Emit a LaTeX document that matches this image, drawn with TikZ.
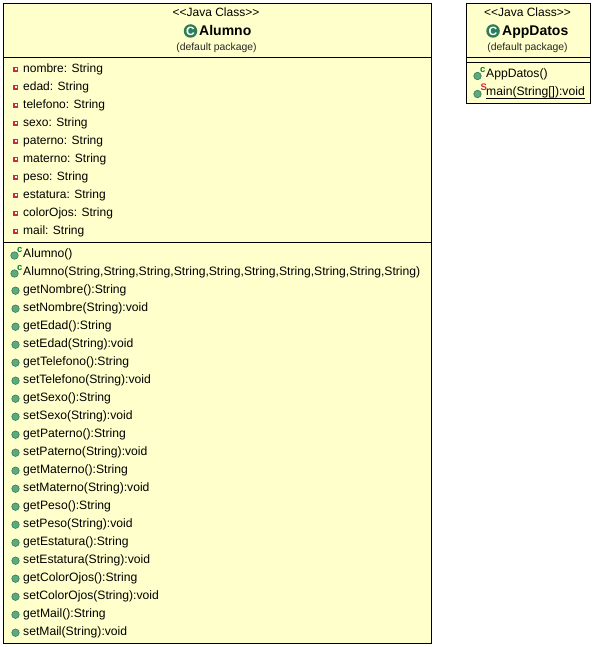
\documentclass[tikz,border=0pt]{standalone}
\usepackage{fontspec}
\setmainfont{Liberation Sans}
\definecolor{boxfill}{RGB}{255,255,203}
\definecolor{gdark}{RGB}{45,125,90}
\definecolor{gmid}{RGB}{95,170,125}
\definecolor{privred}{RGB}{205,40,70}
\definecolor{ctorgreen}{RGB}{0,130,50}
\tikzset{
  x=1pt,y=-1pt,
  classbox/.style={draw=black,line width=1pt,fill=boxfill,outer sep=0pt},
  sep/.style={draw=black,line width=1pt},
  member/.style={font=\fontsize{12.15}{12}\selectfont,anchor=base west,inner sep=0pt,text=black},
  fieldtext/.style={font=\fontsize{12}{12}\selectfont,anchor=base west,inner sep=0pt,text=black},
  stereo/.style={font=\fontsize{12}{12}\selectfont,anchor=base,inner sep=0pt,text=black},
  title/.style={font=\fontsize{14}{14}\selectfont\bfseries,anchor=base west,inner sep=0pt,text=black},
  pkg/.style={font=\fontsize{10.4}{10}\selectfont,anchor=base,inner sep=0pt,text=black!85},
  sup/.style={font=\fontsize{9.5}{8}\selectfont\bfseries,anchor=base west,inner sep=0pt},
  pubdot/.style={circle,draw=gdark,line width=0.6pt,fill=gmid,minimum size=7.5pt,inner sep=0pt},
  bigc/.style={circle,fill=gdark,minimum size=13.5pt,inner sep=0pt,text=white,font=\fontsize{12}{12}\selectfont\bfseries},
  privbox/.style={fill=privred,minimum size=5pt,inner sep=0pt,path picture={\fill[white] ([xshift=-1pt,yshift=-1pt]path picture bounding box.center) rectangle ([xshift=1pt,yshift=1pt]path picture bounding box.center);}},
}
\newcommand{\fieldrow}[3]{%
  \node[privbox] (f#1) at (15.5,#2-2.8) {};
  \node[fieldtext] (ft#1) at (23,#2+0.5) {#3};}
\newcommand{\methodrow}[3]{%
  \node[pubdot] (m#1) at (15.5,#2-2.3) {};
  \node[member] (mt#1) at (23,#2) {#3};}
\newcommand{\ctorrow}[3]{%
  \node[pubdot] (m#1) at (14.5,#2-1.5) {};
  \node[sup,text=ctorgreen] (ms#1) at (17,#2-4.5) {c};
  \node[member] (mt#1) at (23,#2) {#3};}
\begin{document}
\begin{tikzpicture}
\useasboundingbox (0,0) rectangle (594,647);
% Alumno
\node[classbox,minimum width=428pt,minimum height=640pt,inner sep=0pt,anchor=north west] (alumno) at (3.5,3.5) {};
\coordinate (a1l) at (3.5,57.5); \coordinate (a1r) at (431.5,57.5);
\coordinate (a2l) at (3.5,242.5); \coordinate (a2r) at (431.5,242.5);
\draw[sep] (a1l) -- (a1r);
\draw[sep] (a2l) -- (a2r);
\node[stereo] (as) at (216,17) {<{}<Java Class>{}>};
\node[bigc] (ai) at (190.5,31) {C};
\node[title] (at) at (199,36) {Alumno};
\node[pkg] (ap) at (216.5,51) {(default package)};
\fieldrow{1}{72}{nombre: String}
\fieldrow{2}{90}{edad: String}
\fieldrow{3}{108}{telefono: String}
\fieldrow{4}{126}{sexo: String}
\fieldrow{5}{144}{paterno: String}
\fieldrow{6}{162}{materno: String}
\fieldrow{7}{180}{peso: String}
\fieldrow{8}{198}{estatura: String}
\fieldrow{9}{216}{colorOjos: String}
\fieldrow{10}{234}{mail: String}
\ctorrow{1}{257}{Alumno()}
\ctorrow{2}{275}{Alumno(String,String,String,String,String,String,String,String,String,String)}
\methodrow{3}{293}{getNombre():String}
\methodrow{4}{311}{setNombre(String):void}
\methodrow{5}{329}{getEdad():String}
\methodrow{6}{347}{setEdad(String):void}
\methodrow{7}{365}{getTelefono():String}
\methodrow{8}{383}{setTelefono(String):void}
\methodrow{9}{401}{getSexo():String}
\methodrow{10}{419}{setSexo(String):void}
\methodrow{11}{437}{getPaterno():String}
\methodrow{12}{455}{setPaterno(String):void}
\methodrow{13}{473}{getMaterno():String}
\methodrow{14}{491}{setMaterno(String):void}
\methodrow{15}{509}{getPeso():String}
\methodrow{16}{527}{setPeso(String):void}
\methodrow{17}{545}{getEstatura():String}
\methodrow{18}{563}{setEstatura(String):void}
\methodrow{19}{581}{getColorOjos():String}
\methodrow{20}{599}{setColorOjos(String):void}
\methodrow{21}{617}{getMail():String}
\methodrow{22}{635}{setMail(String):void}
% AppDatos
\node[classbox,minimum width=124pt,minimum height=100pt,inner sep=0pt,anchor=north west] (app) at (466.5,3.5) {};
\coordinate (b1l) at (466.5,57.5); \coordinate (b1r) at (590.5,57.5);
\coordinate (b2l) at (466.5,62.5); \coordinate (b2r) at (590.5,62.5);
\draw[sep] (b1l) -- (b1r);
\draw[sep] (b2l) -- (b2r);
\node[stereo] (bs) at (527.5,17) {<{}<Java Class>{}>};
\node[bigc] (bi) at (493,31) {C};
\node[title] (bt) at (502,36) {AppDatos};
\node[pkg] (bp) at (527.5,51) {(default package)};
\node[pubdot] (c1) at (477.5,76) {};
\node[sup,text=ctorgreen] (c1s) at (480,72.5) {c};
\node[member] (c1t) at (486,77.5) {AppDatos()};
\node[pubdot] (c2) at (477.5,94) {};
\node[sup,text=privred] (c2s) at (480.5,91) {S};
\node[member] (c2t) at (486,95.5) {main(String[]):void};
\coordinate (ul) at (486,98); \coordinate (ur) at (584.5,98);
\draw[line width=0.8pt] (ul) -- (ur);
\end{tikzpicture}
\end{document}
